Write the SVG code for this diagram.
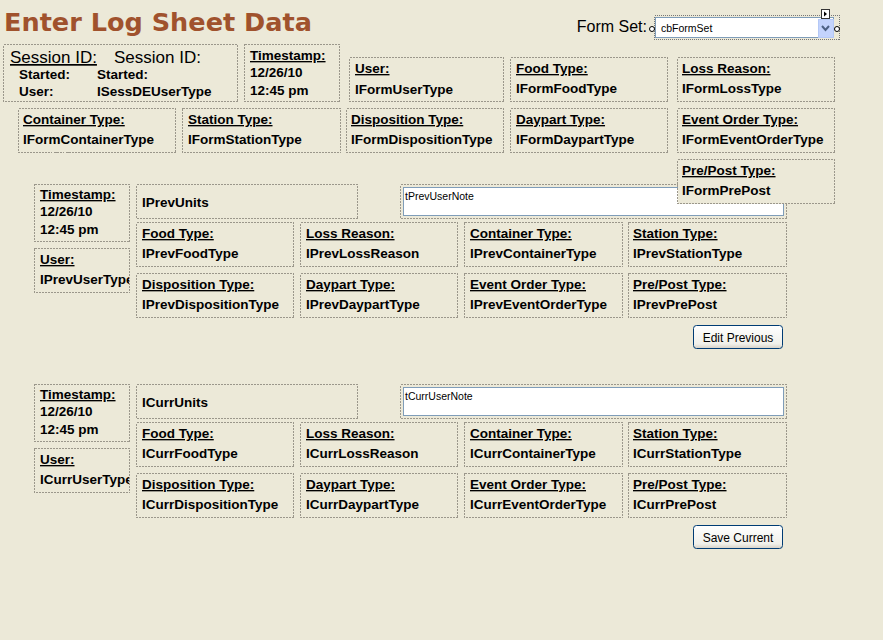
<svg xmlns="http://www.w3.org/2000/svg" width="883" height="640" viewBox="0 0 883 640">
<style>
.box{fill:none;stroke:#9B978B;stroke-width:1;stroke-dasharray:2 1;shape-rendering:crispEdges}
.boxf{fill:#ECE9D8;stroke:#9B978B;stroke-width:1;stroke-dasharray:2 1;shape-rendering:crispEdges}
.lbl{font-family:"Liberation Sans",Arial,sans-serif;font-weight:bold;font-size:13.5px;fill:#000;text-decoration:underline}
.val{font-family:"Liberation Sans",Arial,sans-serif;font-weight:bold;font-size:13.5px;fill:#000}
.big{font-family:"Liberation Sans",Arial,sans-serif;font-size:17px;fill:#000}
.small{font-family:"Liberation Sans",Arial,sans-serif;font-size:10.5px;fill:#000}
.btn{fill:url(#btng);stroke:#003C74;stroke-width:1}
.btnt{font-family:"Liberation Sans",Arial,sans-serif;font-size:12px;fill:#000;text-anchor:middle}
.tb{fill:#FFFFFF;stroke:#7F9DB9;stroke-width:1;shape-rendering:crispEdges}
</style>
<defs>
<linearGradient id="btng" x1="0" y1="0" x2="0" y2="1">
<stop offset="0" stop-color="#FFFFFF"/>
<stop offset="0.8" stop-color="#F0F0EA"/>
<stop offset="1" stop-color="#D6D0C5"/>
</linearGradient>
<clipPath id="cpPrevUser"><rect x="35" y="249" width="94" height="43"/></clipPath>
<clipPath id="cpCurrUser"><rect x="35" y="449" width="94" height="43"/></clipPath>
</defs>
<rect x="0" y="0" width="883" height="640" fill="#ECE9D8"/>

<g id="title">
<text x="4" y="31" font-family="DejaVu Sans,Verdana,sans-serif" font-weight="bold" font-size="25.5" fill="#A0522D" textLength="308" lengthAdjust="spacingAndGlyphs">Enter Log Sheet Data</text>
</g>

<g id="formset">
<text x="647" y="32" font-family="Liberation Sans,Arial,sans-serif" font-size="16" text-anchor="end" fill="#000">Form Set:</text>
<rect x="654.5" y="15.5" width="185" height="24" fill="none" stroke="#777" stroke-dasharray="1 1" shape-rendering="crispEdges"/>
<rect class="tb" x="655.5" y="17.5" width="178" height="20"/>
<rect x="818" y="19" width="15" height="18" fill="#C3D3FD" stroke="#B4C8F6" shape-rendering="crispEdges"/>
<path d="M822 26 L825.5 30 L829 26" fill="none" stroke="#4D6185" stroke-width="2"/>
<text class="small" x="661" y="32">cbFormSet</text>
<rect x="821.5" y="9.5" width="8" height="9" fill="#fff" stroke="#333" shape-rendering="crispEdges"/>
<path d="M824 11.5 L827 14 L824 16.5 Z" fill="#000"/>
<circle cx="652" cy="29" r="2.5" fill="#fff" stroke="#000"/>
<circle cx="837" cy="29" r="2.5" fill="#fff" stroke="#000"/>
</g>

<g id="session">
<rect class="box" x="3.5" y="44.5" width="234" height="57"/>
<text class="big" x="10" y="63" text-decoration="underline">Session ID:</text>
<text class="big" x="114" y="63">Session ID:</text>
<text class="val" x="19" y="79">Started:</text>
<text class="val" x="97" y="79">Started:</text>
<text class="val" x="19" y="96">User:</text>
<text class="val" x="97" y="96">ISessDEUserType</text>
</g>

<g id="form-timestamp">
<rect class="box" x="244.5" y="44.5" width="95" height="57"/>
<text class="lbl" x="250" y="60">Timestamp:</text>
<text class="val" x="250" y="77">12/26/10</text>
<text class="val" x="250" y="95">12:45 pm</text>
</g>

<g id="form-user">
<rect class="box" x="349.5" y="57.5" width="154" height="44"/>
<text class="lbl" x="355" y="73">User:</text>
<text class="val" x="355" y="94">IFormUserType</text>
</g>
<g id="form-food">
<rect class="box" x="510.5" y="57.5" width="157" height="44"/>
<text class="lbl" x="516" y="73">Food Type:</text>
<text class="val" x="516" y="93">IFormFoodType</text>
</g>
<g id="form-loss">
<rect class="box" x="677.5" y="57.5" width="157" height="44"/>
<text class="lbl" x="682" y="73">Loss Reason:</text>
<text class="val" x="682" y="93">IFormLossType</text>
</g>
<g id="form-container">
<rect class="box" x="18.5" y="108.5" width="157" height="44"/>
<text class="lbl" x="23" y="124">Container Type:</text>
<text class="val" x="23" y="144">IFormContainerType</text>
</g>
<g id="form-station">
<rect class="box" x="182.5" y="108.5" width="158" height="44"/>
<text class="lbl" x="188" y="124">Station Type:</text>
<text class="val" x="188" y="144">IFormStationType</text>
</g>
<g id="form-disposition">
<rect class="box" x="346.5" y="108.5" width="157" height="44"/>
<text class="lbl" x="351" y="124">Disposition Type:</text>
<text class="val" x="351" y="144">IFormDispositionType</text>
</g>
<g id="form-daypart">
<rect class="box" x="510.5" y="108.5" width="157" height="44"/>
<text class="lbl" x="516" y="124">Daypart Type:</text>
<text class="val" x="516" y="144">IFormDaypartType</text>
</g>
<g id="form-eventorder">
<rect class="box" x="677.5" y="108.5" width="157" height="44"/>
<text class="lbl" x="682" y="124">Event Order Type:</text>
<text class="val" x="682" y="144">IFormEventOrderType</text>
</g>

<!-- Previous section -->
<g id="prev-timestamp">
<rect class="box" x="34.5" y="184.5" width="95" height="57"/>
<text class="lbl" x="40" y="199">Timestamp:</text>
<text class="val" x="40" y="216">12/26/10</text>
<text class="val" x="40" y="234">12:45 pm</text>
</g>
<g id="prev-user">
<rect class="box" x="34.5" y="248.5" width="95" height="44"/>
<text class="lbl" x="40" y="264">User:</text>
<text class="val" x="40" y="284" clip-path="url(#cpPrevUser)">IPrevUserType</text>
</g>
<g id="prev-units">
<rect class="box" x="136.5" y="184.5" width="221" height="34"/>
<text class="val" x="142" y="207">IPrevUnits</text>
</g>
<g id="prev-note">
<rect class="box" x="400.5" y="184.5" width="386" height="34"/>
<rect class="tb" x="403.5" y="187.5" width="380" height="28"/>
<text class="small" x="405" y="200">tPrevUserNote</text>
</g>
<g id="form-prepost">
<rect class="boxf" x="677.5" y="159.5" width="157" height="44"/>
<text class="lbl" x="682" y="175">Pre/Post Type:</text>
<text class="val" x="682" y="195">IFormPrePost</text>
</g>
<g id="prev-food">
<rect class="box" x="136.5" y="222.5" width="157" height="44"/>
<text class="lbl" x="142" y="238">Food Type:</text>
<text class="val" x="142" y="258">IPrevFoodType</text>
</g>
<g id="prev-loss">
<rect class="box" x="300.5" y="222.5" width="157" height="44"/>
<text class="lbl" x="306" y="238">Loss Reason:</text>
<text class="val" x="306" y="258">IPrevLossReason</text>
</g>
<g id="prev-container">
<rect class="box" x="464.5" y="222.5" width="158" height="44"/>
<text class="lbl" x="470" y="238">Container Type:</text>
<text class="val" x="470" y="258">IPrevContainerType</text>
</g>
<g id="prev-station">
<rect class="box" x="628.5" y="222.5" width="158" height="44"/>
<text class="lbl" x="633" y="238">Station Type:</text>
<text class="val" x="633" y="258">IPrevStationType</text>
</g>
<g id="prev-disposition">
<rect class="box" x="136.5" y="273.5" width="157" height="44"/>
<text class="lbl" x="142" y="289">Disposition Type:</text>
<text class="val" x="142" y="309">IPrevDispositionType</text>
</g>
<g id="prev-daypart">
<rect class="box" x="300.5" y="273.5" width="157" height="44"/>
<text class="lbl" x="306" y="289">Daypart Type:</text>
<text class="val" x="306" y="309">IPrevDaypartType</text>
</g>
<g id="prev-eventorder">
<rect class="box" x="464.5" y="273.5" width="158" height="44"/>
<text class="lbl" x="470" y="289">Event Order Type:</text>
<text class="val" x="470" y="309">IPrevEventOrderType</text>
</g>
<g id="prev-prepost">
<rect class="box" x="628.5" y="273.5" width="158" height="44"/>
<text class="lbl" x="633" y="289">Pre/Post Type:</text>
<text class="val" x="633" y="309">IPrevPrePost</text>
</g>
<g id="btn-edit-previous">
<rect class="btn" x="693.5" y="325.5" width="89" height="23" rx="3"/>
<text class="btnt" x="738" y="342">Edit Previous</text>
</g>

<!-- Current section -->
<g id="curr-timestamp">
<rect class="box" x="34.5" y="384.5" width="95" height="57"/>
<text class="lbl" x="40" y="399">Timestamp:</text>
<text class="val" x="40" y="416">12/26/10</text>
<text class="val" x="40" y="434">12:45 pm</text>
</g>
<g id="curr-user">
<rect class="box" x="34.5" y="448.5" width="95" height="44"/>
<text class="lbl" x="40" y="464">User:</text>
<text class="val" x="40" y="484" clip-path="url(#cpCurrUser)">ICurrUserType</text>
</g>
<g id="curr-units">
<rect class="box" x="136.5" y="384.5" width="221" height="34"/>
<text class="val" x="142" y="407">ICurrUnits</text>
</g>
<g id="curr-note">
<rect class="box" x="400.5" y="384.5" width="386" height="34"/>
<rect class="tb" x="403.5" y="387.5" width="380" height="28"/>
<text class="small" x="405" y="400">tCurrUserNote</text>
</g>
<g id="curr-food">
<rect class="box" x="136.5" y="422.5" width="157" height="44"/>
<text class="lbl" x="142" y="438">Food Type:</text>
<text class="val" x="142" y="458">ICurrFoodType</text>
</g>
<g id="curr-loss">
<rect class="box" x="300.5" y="422.5" width="157" height="44"/>
<text class="lbl" x="306" y="438">Loss Reason:</text>
<text class="val" x="306" y="458">ICurrLossReason</text>
</g>
<g id="curr-container">
<rect class="box" x="464.5" y="422.5" width="158" height="44"/>
<text class="lbl" x="470" y="438">Container Type:</text>
<text class="val" x="470" y="458">ICurrContainerType</text>
</g>
<g id="curr-station">
<rect class="box" x="628.5" y="422.5" width="158" height="44"/>
<text class="lbl" x="633" y="438">Station Type:</text>
<text class="val" x="633" y="458">ICurrStationType</text>
</g>
<g id="curr-disposition">
<rect class="box" x="136.5" y="473.5" width="157" height="44"/>
<text class="lbl" x="142" y="489">Disposition Type:</text>
<text class="val" x="142" y="509">ICurrDispositionType</text>
</g>
<g id="curr-daypart">
<rect class="box" x="300.5" y="473.5" width="157" height="44"/>
<text class="lbl" x="306" y="489">Daypart Type:</text>
<text class="val" x="306" y="509">ICurrDaypartType</text>
</g>
<g id="curr-eventorder">
<rect class="box" x="464.5" y="473.5" width="158" height="44"/>
<text class="lbl" x="470" y="489">Event Order Type:</text>
<text class="val" x="470" y="509">ICurrEventOrderType</text>
</g>
<g id="curr-prepost">
<rect class="box" x="628.5" y="473.5" width="158" height="44"/>
<text class="lbl" x="633" y="489">Pre/Post Type:</text>
<text class="val" x="633" y="509">ICurrPrePost</text>
</g>
<g id="btn-save-current">
<rect class="btn" x="693.5" y="525.5" width="89" height="23" rx="3"/>
<text class="btnt" x="738" y="542">Save Current</text>
</g>
</svg>
